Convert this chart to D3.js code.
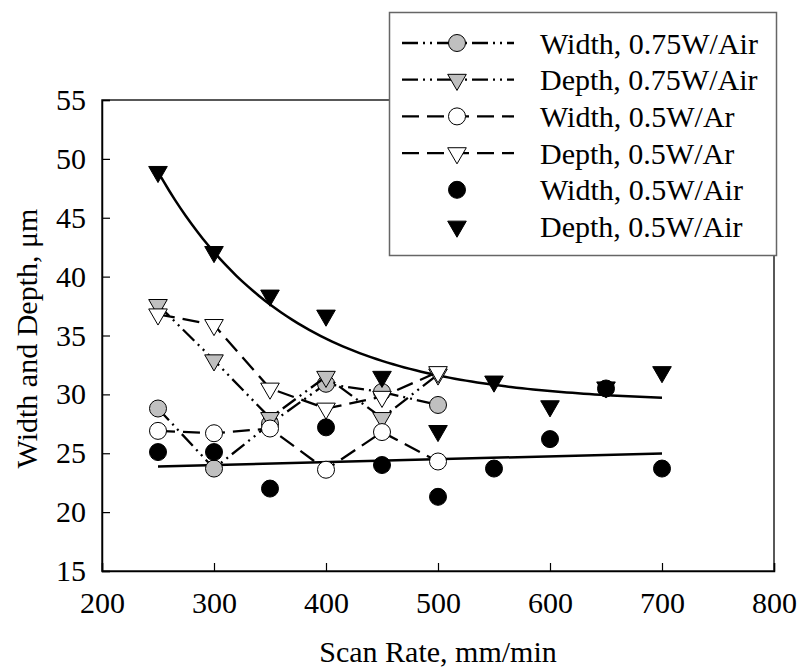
<!DOCTYPE html>
<html>
<head>
<meta charset="utf-8">
<script src="https://cdn.jsdelivr.net/npm/d3@7"></script>
<style>
  body { margin: 0; background: #fff; }
  svg { display: block; font-family: "Liberation Serif", "Times New Roman", serif; }
</style>
</head>
<body>
<svg id="chart"></svg>
<script>
// Scan rates (mm/min)
const rates = [250, 300, 350, 400, 450, 500];
const ratesAir = [250, 300, 350, 400, 450, 500, 550, 600, 650, 700];

// Series values (um)
const width075Air = [28.8, 23.7, 27.5, 30.9, 30.2, 29.1];
const depth075Air = [37.6, 32.9, 28.0, 31.5, 28.0, 31.7];
const width05Ar = [26.9, 26.7, 27.1, 23.6, 26.8, 24.3];
const depth05Ar = [36.8, 35.9, 30.5, 28.8, 29.8, 31.9];
const width05Air = [25.1, 25.1, 22.0, 27.2, 24.0, 21.3, 23.7, 26.2, 30.5, 23.7];
const depth05Air = [48.9, 42.1, 38.4, 36.7, 31.5, 26.9, 31.1, 29.0, 30.6, 31.9];

// Fitted trend lines shown in the chart (0.5W/Air)
const widthTrend = [23.88, 0.00245];          // a + b*(x-250)
const depthTrend = [29.3, 19.6, 0.00855];     // y0 + A*exp(-k*(x-250))
const trendRange = [250, 700];

const xTicks = [200, 300, 400, 500, 600, 700, 800];
const yTicks = [15, 20, 25, 30, 35, 40, 45, 50, 55];

const legendLabels = ['Width, 0.75W/Air', 'Depth, 0.75W/Air', 'Width, 0.5W/Ar',
  'Depth, 0.5W/Ar', 'Width, 0.5W/Air', 'Depth, 0.5W/Air'];

const W = 801, H = 672;
const margin = { top: 100, right: 27, bottom: 101, left: 102 };
const width = W - margin.left - margin.right;
const height = H - margin.top - margin.bottom;

const svg = d3.select('#chart')
    .attr('width', W)
    .attr('height', H);

const g = svg.append('g')
    .attr('transform', `translate(${margin.left},${margin.top})`);

const x = d3.scaleLinear().domain([200, 800]).range([0, width]);
const y = d3.scaleLinear().domain([15, 55]).range([height, 0]);

const fs = 30;
const dashDotDot = '16,5,2,5,2,5';
const longDash = '17,8';

// Frame
g.append('rect')
    .attr('width', width)
    .attr('height', height)
    .attr('fill', 'none')
    .attr('stroke', '#222')
    .attr('stroke-width', 1.5);

// Axes with inward ticks
const xAxis = g.append('g')
    .attr('transform', `translate(0,${height})`)
    .call(d3.axisBottom(x).tickValues(xTicks).tickSize(-8).tickPadding(21).tickFormat(d3.format('d')));
const yAxis = g.append('g')
    .call(d3.axisLeft(y).tickValues(yTicks).tickSize(-8).tickPadding(16).tickFormat(d3.format('d')));

[xAxis, yAxis].forEach(a => {
  a.attr('font-family', null);
  a.select('.domain').attr('stroke', '#000').attr('stroke-width', 1.5);
  a.selectAll('.tick line').attr('stroke', '#000').attr('stroke-width', 1.2);
  a.selectAll('text')
      .style('font-family', '"Liberation Serif", serif')
      .style('font-size', fs + 'px')
      .style('fill', '#000');
});

// Axis titles
svg.append('text')
    .attr('x', margin.left + width / 2)
    .attr('y', 662)
    .attr('text-anchor', 'middle')
    .style('font-size', fs + 'px')
    .text('Scan Rate, mm/min');

svg.append('text')
    .attr('transform', `translate(37,${margin.top + height / 2 + 3}) rotate(-90)`)
    .attr('text-anchor', 'middle')
    .style('font-size', fs + 'px')
    .text('Width and Depth, \u03bcm');

// Trend lines
const trendX = d3.range(trendRange[0], trendRange[1] + 1, 5);
const trendLine = d3.line().x(d => x(d[0])).y(d => y(d[1]));

g.append('path')
    .datum(trendRange.map(r => [r, widthTrend[0] + widthTrend[1] * (r - 250)]))
    .attr('d', trendLine)
    .attr('fill', 'none')
    .attr('stroke', '#000')
    .attr('stroke-width', 2.5);

g.append('path')
    .datum(trendX.map(r => [r, depthTrend[0] + depthTrend[1] * Math.exp(-depthTrend[2] * (r - 250))]))
    .attr('d', trendLine)
    .attr('fill', 'none')
    .attr('stroke', '#000')
    .attr('stroke-width', 2.5);

// Connected series
const series = [
  { xs: rates, ys: width075Air, dash: dashDotDot, shape: 'circle', fill: '#c0c0c0' },
  { xs: rates, ys: depth075Air, dash: dashDotDot, shape: 'tri', fill: '#c0c0c0' },
  { xs: rates, ys: width05Ar, dash: longDash, shape: 'circle', fill: '#fff' },
  { xs: rates, ys: depth05Ar, dash: longDash, shape: 'tri', fill: '#fff' },
  { xs: ratesAir, ys: width05Air, dash: null, shape: 'circle', fill: '#000' },
  { xs: ratesAir, ys: depth05Air, dash: null, shape: 'tri', fill: '#000' }
];

const circleSym = d3.symbol(d3.symbolCircle, 227);
const triSym = d3.symbol(d3.symbolTriangle, 150);

function marker(sel, s) {
  sel.append('path')
      .attr('d', s.shape === 'circle' ? circleSym() : triSym())
      .attr('transform', d => `translate(${d[0]},${d[1]})` + (s.shape === 'tri' ? ' rotate(180)' : ''))
      .attr('fill', s.fill)
      .attr('stroke', '#000')
      .attr('stroke-width', 1);
}

const lineGen = d3.line();

series.forEach(s => {
  const pts = s.xs.map((r, i) => [x(r), y(s.ys[i])]);
  if (s.dash) {
    g.append('path')
        .datum(pts)
        .attr('d', lineGen)
        .attr('fill', 'none')
        .attr('stroke', '#000')
        .attr('stroke-width', 2.3)
        .attr('stroke-dasharray', s.dash);
  }
  g.append('g').selectAll('path')
      .data(pts)
      .enter()
      .call(sel => marker(sel, s));
});

// Legend
const legend = svg.append('g');
legend.append('rect')
    .attr('x', 389.5)
    .attr('y', 12.5)
    .attr('width', 387)
    .attr('height', 243)
    .attr('fill', '#fff')
    .attr('stroke', '#666')
    .attr('stroke-width', 1.5);

legendLabels.forEach((label, i) => {
  const s = series[i];
  const cy = 43 + i * 36.7;
  const row = legend.append('g');
  if (s.dash) {
    row.append('line')
        .attr('x1', 402).attr('x2', 514)
        .attr('y1', cy).attr('y2', cy)
        .attr('stroke', '#000')
        .attr('stroke-width', 2.3)
        .attr('stroke-dasharray', s.dash);
  }
  row.selectAll('path')
      .data([[457, cy]])
      .enter()
      .call(sel => marker(sel, s));
  row.append('text')
      .attr('x', 540)
      .attr('y', cy)
      .attr('dy', '0.35em')
      .style('font-size', fs + 'px')
      .text(label);
});
</script>
</body>
</html>
